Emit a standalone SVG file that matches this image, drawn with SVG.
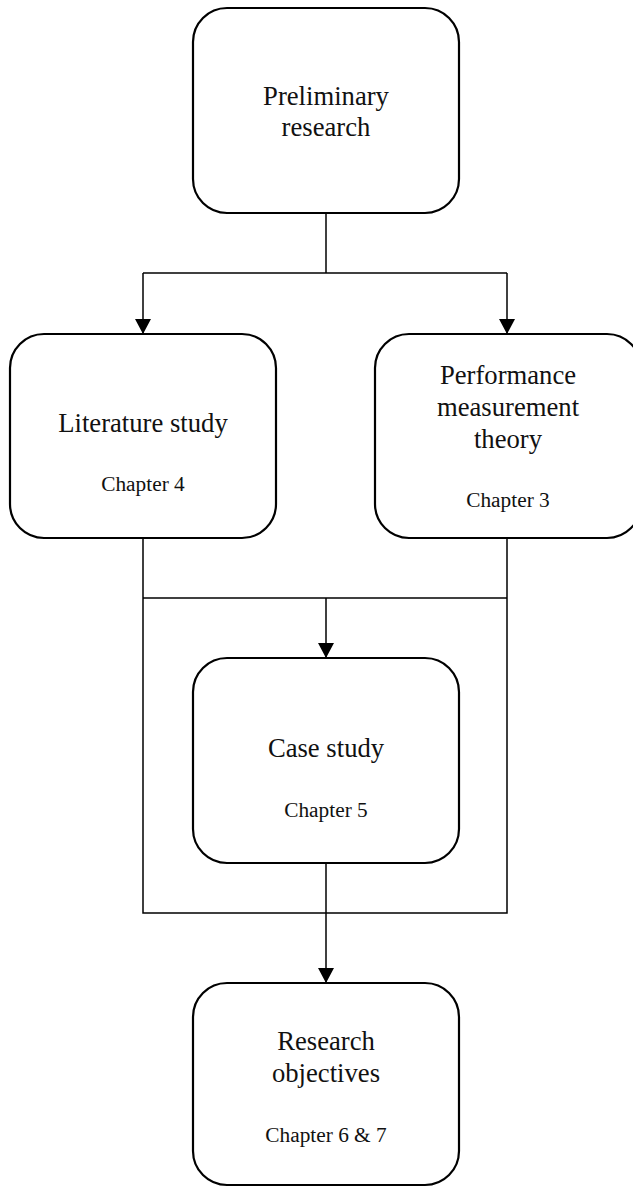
<svg xmlns="http://www.w3.org/2000/svg" width="633" height="1187" viewBox="0 0 633 1187">
  <style>
    .box { fill: #ffffff; stroke: #000000; stroke-width: 2.2; }
    .wire { fill: none; stroke: #000000; stroke-width: 1.5; }
    .title { font-family: "Liberation Serif", "Times New Roman", serif; font-size: 26.67px; fill: #111111; text-anchor: middle; }
    .sub { font-family: "Liberation Serif", "Times New Roman", serif; font-size: 21.33px; fill: #111111; text-anchor: middle; }
  </style>
  <defs>
    <marker id="arrow" markerUnits="userSpaceOnUse" markerWidth="16" markerHeight="16" refX="15" refY="8" orient="auto">
      <path d="M0,0 L15,8 L0,16 Z" fill="#000000"/>
    </marker>
  </defs>
  <rect width="633" height="1187" fill="#ffffff"/>

  <!-- connectors -->
  <g id="connectors">
    <path class="wire" d="M326 213 V273"/>
    <path class="wire" d="M143 273 H507"/>
    <path class="wire" d="M143 273 V334" marker-end="url(#arrow)"/>
    <path class="wire" d="M507 273 V334" marker-end="url(#arrow)"/>
    <path class="wire" d="M143 538 V913 H507 V538"/>
    <path class="wire" d="M143 598 H507"/>
    <path class="wire" d="M326 598 V658" marker-end="url(#arrow)"/>
    <path class="wire" d="M326 863 V983" marker-end="url(#arrow)"/>
  </g>

  <!-- nodes -->
  <g id="preliminary-research">
    <rect class="box" x="193" y="8" width="266" height="205" rx="34" ry="34"/>
    <text class="title" x="326" y="105">Preliminary</text>
    <text class="title" x="326" y="136">research</text>
  </g>

  <g id="literature-study">
    <rect class="box" x="10" y="334" width="266" height="204" rx="34" ry="34"/>
    <text class="title" x="143" y="432">Literature study</text>
    <text class="sub" x="143" y="491">Chapter 4</text>
  </g>

  <g id="performance-measurement-theory">
    <rect class="box" x="375" y="334" width="266" height="204" rx="34" ry="34"/>
    <text class="title" x="508" y="384">Performance</text>
    <text class="title" x="508" y="416">measurement</text>
    <text class="title" x="508" y="448">theory</text>
    <text class="sub" x="508" y="507">Chapter 3</text>
  </g>

  <g id="case-study">
    <rect class="box" x="193" y="658" width="266" height="205" rx="34" ry="34"/>
    <text class="title" x="326" y="757">Case study</text>
    <text class="sub" x="326" y="817">Chapter 5</text>
  </g>

  <g id="research-objectives">
    <rect class="box" x="193" y="983" width="266" height="202" rx="34" ry="34"/>
    <text class="title" x="326" y="1050">Research</text>
    <text class="title" x="326" y="1082">objectives</text>
    <text class="sub" x="326" y="1142">Chapter 6 &amp; 7</text>
  </g>
</svg>
